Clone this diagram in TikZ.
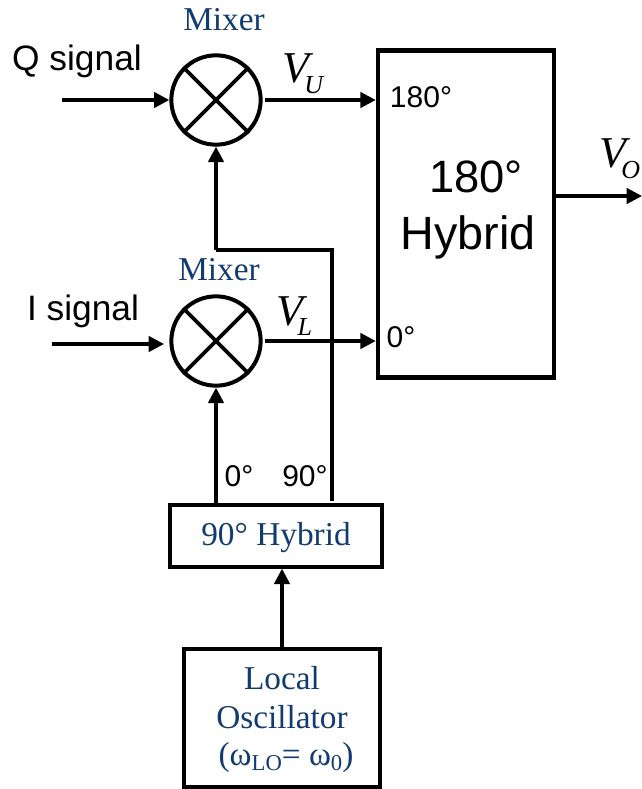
\documentclass[tikz,border=0pt]{standalone}
\usepackage{fontspec}
\setmainfont{Liberation Sans}
\newfontfamily\serifface{Liberation Serif}
\usetikzlibrary{arrows.meta}
\definecolor{navyblue}{RGB}{18,60,112}
\newcommand{\voltsub}[1]{\kern-4pt\raisebox{-8pt}{\fontsize{19.5}{22}\selectfont #1}}
\tikzset{
  wire/.style={line width=2.4pt,-{Triangle[length=11.5pt,width=11.5pt]}},
  plainwire/.style={line width=2.4pt},
  boxnode/.style={draw,line width=3.4pt,inner sep=0pt},
  thinbox/.style={draw,line width=3pt,inner sep=0pt},
  mixer/.style={draw,circle,line width=3pt,minimum size=67pt,inner sep=0pt},
  bluelabel/.style={text=navyblue,font=\serifface\fontsize{25}{28}\selectfont,inner sep=0pt},
  sanslabel/.style={font=\fontsize{26.5}{30}\selectfont,inner sep=0pt},
  portlabel/.style={font=\fontsize{22.5}{26}\selectfont,inner sep=0pt},
  voltlabel/.style={font=\serifface\itshape\fontsize{33}{36}\selectfont,inner sep=0pt}
}
\begin{document}
\begin{tikzpicture}[x=0.75pt,y=-0.75pt]
\useasboundingbox (0,0) rectangle (642,789);
% Mixers
\node[mixer] (mixU) at (216,100) {};
\node[mixer] (mixL) at (216,341) {};
\draw[line width=2.8pt] (mixU.north west) -- (mixU.south east) (mixU.north east) -- (mixU.south west);
\draw[line width=2.8pt] (mixL.north west) -- (mixL.south east) (mixL.north east) -- (mixL.south west);
\node[bluelabel] (mixUlabel) at (224,20) {Mixer};
\node[bluelabel] (mixLlabel) at (219,270) {Mixer};

% Boxes
\node[boxnode,minimum width=132pt,minimum height=245pt] (hyb180) at (466,214) {};
\node[thinbox,minimum width=159pt,minimum height=46pt] (hyb90) at (276,536) {};
\node[thinbox,minimum width=147pt,minimum height=104pt] (losc) at (282,718) {};
\node[font=\fontsize{34}{38}\selectfont,inner sep=0pt] (hybtxta) at (476,177) {180°};
\node[font=\fontsize{35}{39}\selectfont,inner sep=0pt] (hybtxtb) at (468,237) {Hybrid};
\node[bluelabel] (hyb90txt) at (276,538) {90° Hybrid};
\node[bluelabel] (lotxta) at (282,678) {Local};
\node[bluelabel] (lotxtb) at (282,717) {Oscillator};
\node[bluelabel] (lotxtc) at (286,757) {(ω\raisebox{-4pt}{\fontsize{17}{19}\selectfont LO}= ω\raisebox{-4pt}{\fontsize{17}{19}\selectfont 0})};

% Signal inputs
\coordinate (qin) at (62,100);
\coordinate (iin) at (52,344);
\coordinate (vout) at (642,196);
\node[sanslabel] (qsig) at (77,61) {Q signal};
\node[sanslabel] (isig) at (83,311) {I signal};
\draw[wire] (qin) -- (mixU.west);
\draw[wire,shorten >=4pt] (iin) -- (mixL.west |- iin);

% Mixer outputs
\draw[wire,shorten <=2pt] (mixU.east) -- (hyb180.west |- mixU.east);
\draw[wire,shorten <=2pt] (mixL.east) -- (hyb180.west |- mixL.east);
\draw[wire] (hyb180.east |- vout) -- (vout);
\node[voltlabel] (vu) at (303,74) {V\voltsub{U}};
\node[voltlabel] (vl) at (294,316) {V\voltsub{L}};
\node[voltlabel] (vo) at (620,159) {V\voltsub{O}};
\node[portlabel] (p180) at (421,97) {180°};
\node[portlabel] (p0) at (401,337) {0°};

% LO feeds
\coordinate (lobend) at (332,250);
\coordinate (lomid) at (216,250);
\draw[plainwire] (332,501) -- (lobend) -- (lomid);
\draw[wire] (lomid) -- (mixU.south);
\draw[wire] (216,507) -- (mixL.south);
\draw[wire] (losc.north) -- (losc.north |- hyb90.south);
\node[portlabel] (p0b) at (239,476) {0°};
\node[portlabel] (p90) at (305,476) {90°};
\end{tikzpicture}
\end{document}
